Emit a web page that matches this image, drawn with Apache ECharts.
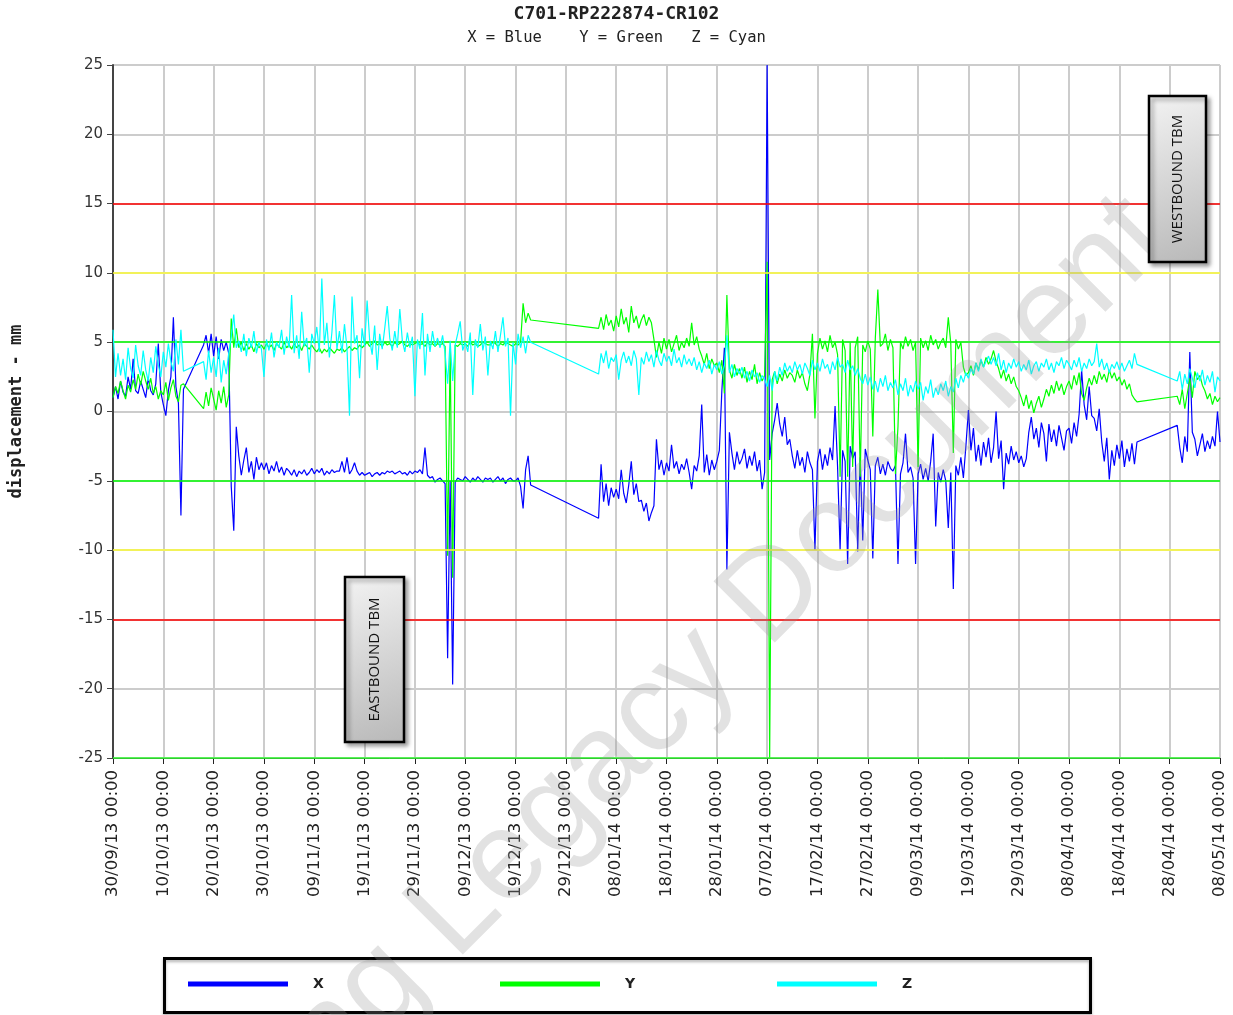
<!DOCTYPE html>
<html><head><meta charset="utf-8">
<script src="https://cdn.jsdelivr.net/npm/echarts@6/dist/echarts.min.js"></script>
<style>html,body{margin:0;padding:0;background:#fff}#chart{width:1233px;height:1015px}</style>
</head><body><div id="chart"></div>
<script>
const chartTitle = 'C701-RP222874-CR102';
const chartSubtitle = 'X = Blue    Y = Green   Z = Cyan';
const yAxisName = 'displacement - mm';
const seriesNames = ['X', 'Y', 'Z'];
const annotationTexts = ['EASTBOUND TBM', 'WESTBOUND TBM'];
const watermarkText = 'ng Legacy Document';
// one sample every half day, starting 30/09/13 00:00 (day 0)
const sampleStepDays = 0.5;
const xTickLabels = ['30/09/13 00:00','10/10/13 00:00','20/10/13 00:00','30/10/13 00:00','09/11/13 00:00','19/11/13 00:00','29/11/13 00:00','09/12/13 00:00','19/12/13 00:00','29/12/13 00:00','08/01/14 00:00','18/01/14 00:00','28/01/14 00:00','07/02/14 00:00','17/02/14 00:00','27/02/14 00:00','09/03/14 00:00','19/03/14 00:00','29/03/14 00:00','08/04/14 00:00','18/04/14 00:00','28/04/14 00:00','08/05/14 00:00'];
const limitLevels = [15, -15, 10, -10, 5, -5, -25];

const xValues = [
1.0,1.8,0.9,2.2,1.4,1.1,2.5,1.6,3.8,1.5,
1.3,2.2,1.6,1.0,2.4,1.5,1.2,2.0,4.9,1.4,
0.5,-0.3,1.5,2.5,6.8,1.8,0.6,-7.5,1.6,null,
null,null,null,null,null,null,4.8,5.5,4.2,5.6,
4.0,5.4,3.8,5.2,4.4,5.0,4.2,-5.4,-8.6,-1.1,
-3.2,-4.6,-3.5,-2.6,-4.4,-3.6,-4.9,-3.3,-4.2,-3.7,
-4.2,-3.7,-4.5,-3.9,-4.3,-3.6,-4.4,-4.0,-4.6,-4.1,
-4.3,-4.6,-4.2,-4.7,-4.3,-4.5,-4.2,-4.6,-4.4,-4.1,
-4.5,-4.2,-4.4,-4.1,-4.6,-4.3,-4.5,-4.2,-4.4,-4.3,
-4.3,-3.6,-4.4,-3.3,-4.5,-4.2,-3.7,-4.3,-4.6,-4.4,
-4.6,-4.5,-4.4,-4.7,-4.5,-4.4,-4.6,-4.4,-4.5,-4.3,
-4.4,-4.3,-4.5,-4.4,-4.3,-4.5,-4.4,-4.6,-4.3,-4.5,
-4.3,-4.4,-4.2,-4.5,-2.6,-4.6,-4.8,-4.7,-5.1,-4.9,
-4.8,-5.0,-5.2,-17.8,-5.0,-19.7,-5.1,-4.8,-4.9,-5.0,
-4.7,-4.9,-5.1,-4.8,-5.0,-4.7,-4.9,-5.1,-4.8,-4.9,
-4.8,-5.1,-4.9,-4.7,-5.0,-4.8,-5.2,-4.9,-4.8,-5.0,
-5.0,-4.8,-5.4,-7.0,-4.2,-3.2,-5.3,null,null,null,
null,null,null,null,null,null,null,null,null,null,
null,null,null,null,null,null,null,null,null,null,
null,null,null,-7.7,-3.8,-6.5,-5.2,-6.8,-5.5,-6.2,
-5.6,-6.3,-4.2,-5.9,-6.6,-5.3,-3.6,-6.0,-5.2,-6.5,
-6.4,-7.2,-6.6,-7.9,-7.3,-6.8,-2.0,-4.2,-3.5,-4.6,
-3.7,-4.3,-2.4,-4.1,-3.6,-4.5,-3.8,-4.2,-3.4,-4.4,
-5.6,-3.9,-4.3,-3.2,0.5,-4.4,-3.1,-4.6,-3.5,-4.2,
-3.6,-2.8,1.5,4.6,-11.4,-1.5,-3.0,-4.2,-2.9,-3.8,
-3.4,-2.7,-4.1,-3.2,-3.9,-2.9,-4.3,-3.5,-5.6,-4.4,
25,-3.5,-1.6,-0.6,0.6,-0.9,-1.8,-0.4,-2.4,-2.0,
-3.2,-4.1,-2.8,-3.9,-3.3,-4.4,-2.9,-3.7,-4.2,-10.0,
-3.6,-2.7,-4.2,-3.1,-3.9,-2.6,-3.5,0.4,-4.0,-10.0,
-2.8,-3.6,-11.0,-2.5,-3.4,-2.9,-10.1,-3.3,-9.3,-2.7,
-3.5,-4.2,-10.6,-3.9,-3.3,-4.5,-3.8,-4.6,-3.6,-4.1,
-4.3,-3.9,-11.0,-4.5,-3.7,-1.6,-4.4,-4.0,-4.8,-11.0,
-4.5,-3.8,-4.9,-4.1,-5.0,-3.6,-1.6,-8.3,-4.4,-5.1,
-4.2,-5.0,-8.4,-4.4,-12.8,-3.9,-4.6,-3.3,-4.8,-2.5,
0.1,-2.8,-1.2,-3.6,-2.4,-3.9,-2.2,-3.3,-1.9,-3.7,
-2.6,0.0,-3.4,-2.1,-5.6,-3.0,-3.8,-2.5,-3.5,-2.9,
-3.7,-3.2,-4.0,-3.4,-1.5,-0.4,-2.0,-1.2,-2.6,-0.8,
-1.6,-3.6,-0.9,-2.2,-1.3,-2.5,-1.0,-1.9,-2.8,-1.4,
-1.2,-2.3,-0.8,-1.8,-0.2,3.0,0.5,-0.6,1.8,-0.3,
-0.5,-1.4,0.2,-2.2,-3.6,-1.9,-4.9,-2.8,-3.9,-2.4,
-3.4,-2.1,-4.0,-2.7,-3.6,-2.3,-3.8,-2.2,null,null,
null,null,null,null,null,null,null,null,null,null,
null,null,null,-1.0,-2.6,-3.7,-1.8,-2.9,4.3,-1.5,
-2.0,-3.2,-2.4,-1.6,-2.9,-2.1,-2.7,-1.8,-2.5,0.0,
-2.2
];

const yValues = [
1.0,1.8,1.3,2.2,1.5,0.9,1.9,1.4,2.3,1.6,
2.7,1.9,2.9,2.2,1.6,2.4,1.3,1.8,0.9,1.5,
1.2,2.1,0.8,1.7,2.3,1.1,0.7,1.9,2.0,null,
null,null,null,null,null,null,0.2,1.4,0.4,1.7,
0.9,0.1,1.5,0.6,1.8,0.3,1.2,6.7,4.6,6.0,
4.6,5.0,4.4,4.9,4.5,4.8,4.3,4.9,4.6,4.8,
4.5,4.9,4.6,4.8,4.4,4.9,4.7,4.5,5.0,4.6,
4.8,4.5,4.9,4.6,4.8,4.4,4.9,4.7,4.5,4.8,
4.5,4.3,4.6,4.2,4.5,4.3,4.6,4.4,4.2,4.5,
4.4,4.6,4.3,4.5,4.7,4.4,4.6,4.5,4.8,4.6,
4.8,5.0,4.7,4.9,5.1,4.8,4.9,4.7,5.0,4.8,
4.9,4.7,5.0,4.8,4.9,5.1,4.8,4.7,4.9,4.8,
4.9,5.0,4.8,4.9,4.7,5.0,4.8,4.9,4.7,4.9,
4.8,4.9,4.7,-10.4,4.5,-12.0,4.8,4.7,4.9,4.8,
4.9,4.7,5.0,4.8,4.9,4.7,4.8,5.0,4.9,4.8,
4.8,5.0,4.9,4.7,4.9,4.8,5.0,4.9,4.8,4.7,
4.9,4.8,5.0,7.8,6.4,7.1,6.6,null,null,null,
null,null,null,null,null,null,null,null,null,null,
null,null,null,null,null,null,null,null,null,null,
null,null,null,6.0,6.8,5.9,7.0,6.2,6.6,5.8,
6.9,6.1,7.4,6.3,6.8,5.7,7.6,6.4,6.9,6.0,
6.6,7.0,6.2,6.8,6.4,5.2,3.9,5.0,4.2,5.3,
4.5,5.2,4.3,4.9,5.5,4.4,5.0,4.6,5.3,4.7,
6.4,4.8,5.4,4.5,4.0,3.4,4.2,3.1,3.8,3.3,
3.5,2.8,3.7,1.3,8.4,3.0,2.4,3.4,2.6,3.1,
2.4,3.2,2.1,2.9,2.3,3.4,2.0,2.8,2.2,2.6,
10.8,-25,2.3,2.9,2.0,2.7,2.2,3.0,2.4,2.8,
2.6,2.1,3.0,2.4,2.8,2.0,1.5,2.7,5.6,-0.5,
4.2,5.3,4.5,5.1,4.3,5.5,4.6,5.0,4.1,-4.7,
5.2,4.4,-4.7,5.0,-4.0,4.6,5.4,-4.7,4.8,4.3,
5.1,4.5,-1.8,5.3,8.8,4.7,4.9,5.6,4.4,5.2,
4.6,-4.5,-1.1,5.0,4.5,5.4,4.7,5.2,4.4,5.0,
-4.0,5.3,4.6,5.1,4.4,5.5,4.8,5.2,4.5,5.0,
5.3,4.6,6.8,4.9,-3.0,5.2,4.5,5.0,3.2,2.6,
2.8,3.3,2.6,3.5,3.0,3.7,3.2,3.9,3.4,3.8,
4.4,3.6,3.1,2.4,3.0,2.2,2.7,2.0,2.5,1.8,
1.5,1.0,0.4,1.2,0.2,0.8,-0.1,0.6,1.1,0.3,
0.9,1.6,1.1,1.9,1.3,2.2,1.5,2.0,1.2,1.8,
2.2,1.6,2.6,1.9,2.8,1.3,0.8,1.7,2.4,1.9,
2.6,2.0,2.9,2.3,2.7,2.1,3.0,2.4,2.8,2.2,
2.5,1.9,2.3,1.6,2.0,1.2,0.9,0.7,null,null,
null,null,null,null,null,null,null,null,null,null,
null,null,null,1.1,0.5,1.6,0.2,1.3,2.4,1.0,
2.9,2.3,2.6,1.9,1.5,0.9,1.3,0.5,1.1,0.7,
1.0
];

const zValues = [
5.9,2.5,4.2,2.6,3.8,2.3,4.6,3.1,2.4,4.8,
3.3,2.6,4.4,3.0,2.2,3.9,2.8,4.7,3.4,2.5,
4.3,3.2,4.9,3.6,2.9,5.2,3.4,5.9,2.9,null,
null,null,null,null,null,null,3.6,2.3,4.4,2.8,
3.9,2.5,4.6,2.1,3.7,2.7,4.2,5.4,7.0,4.6,
5.1,4.3,5.6,4.0,5.3,4.6,5.8,4.2,5.0,4.5,
2.5,5.2,4.4,5.7,3.9,5.0,4.6,5.9,4.1,5.4,
4.6,8.4,4.2,5.5,3.8,7.2,4.7,5.3,2.8,5.6,
4.9,6.1,4.3,9.6,4.8,6.4,3.9,5.7,8.4,4.5,
5.8,4.2,6.3,4.6,-0.3,8.3,4.9,5.5,2.4,6.0,
4.7,8.0,5.2,4.1,6.2,3.0,5.6,4.5,6.0,7.6,
5.3,4.4,5.8,4.6,7.4,5.1,4.3,5.7,4.6,5.4,
1.1,5.2,4.5,7.1,2.6,5.6,4.3,5.8,4.7,5.3,
4.6,5.5,4.2,2.0,5.1,2.2,4.8,5.6,6.5,4.4,
5.0,4.3,5.7,1.2,5.2,4.6,6.3,4.4,5.4,2.6,
5.1,4.5,5.8,4.3,5.5,6.8,4.7,5.3,-0.3,5.0,
3.4,5.6,4.6,5.4,4.2,5.5,5.0,null,null,null,
null,null,null,null,null,null,null,null,null,null,
null,null,null,null,null,null,null,null,null,null,
null,null,null,2.7,4.2,3.5,4.4,3.1,3.9,3.6,
4.1,2.3,3.7,4.3,3.5,4.0,3.3,4.4,3.8,1.2,
3.9,3.4,4.3,3.6,4.1,3.2,4.4,3.7,3.3,4.2,
3.6,4.0,3.3,4.5,3.5,3.9,3.2,4.1,3.4,3.8,
3.3,3.9,3.0,3.6,2.8,3.5,3.1,3.7,2.7,3.4,
3.0,3.6,2.7,3.3,5.5,2.8,3.4,2.5,3.1,2.7,
3.2,2.4,2.9,2.2,3.0,2.5,2.8,2.1,2.6,2.3,
1.8,2.6,1.5,2.9,2.2,3.2,2.6,3.5,2.9,3.3,
2.8,3.6,3.0,3.4,2.7,3.5,3.1,2.6,3.7,3.0,
3.5,2.9,3.8,3.1,3.4,2.7,3.6,3.0,3.9,3.2,
3.4,2.8,3.7,3.0,3.3,2.6,3.1,2.4,2.0,2.7,
1.9,2.5,1.6,2.2,1.4,2.4,1.8,2.6,1.5,2.1,
1.7,2.3,1.2,2.0,1.5,2.4,1.1,1.9,1.4,2.2,
1.6,2.1,0.8,1.8,1.3,2.3,1.0,1.7,1.2,2.0,
1.5,2.2,1.1,1.8,1.4,2.4,1.7,2.6,2.1,2.8,
2.4,3.1,2.7,3.5,2.9,3.8,3.2,3.6,4.0,3.4,
3.9,3.3,4.2,3.0,3.7,2.8,3.5,3.1,3.8,3.2,
3.6,2.9,3.4,3.0,3.7,2.7,3.3,3.6,2.9,3.5,
3.2,3.8,3.0,3.5,2.8,3.6,3.3,3.9,3.1,3.7,
3.4,3.0,3.7,3.2,3.9,2.9,3.5,3.1,3.8,3.3,
3.6,4.9,3.2,3.8,3.0,3.5,2.8,3.4,3.1,3.6,
3.0,3.5,2.9,3.3,3.7,3.1,4.2,3.4,null,null,
null,null,null,null,null,null,null,null,null,null,
null,null,null,2.2,2.9,1.6,2.7,2.0,3.1,2.4,
1.7,2.8,2.2,3.0,1.9,2.6,2.1,2.9,1.4,2.5,
2.2
];

// ---------------- chart -----------------
const colors = ['#0000FF', '#00FF00', '#00FFFF'];
const limitColors = { 15: '#FF0000', '-15': '#FF0000', 10: '#FFFF33', '-10': '#FFFF33', 5: '#00FF00', '-5': '#00FF00', '-25': '#33FF33' };
const tickStep = 10;
const toPairs = arr => arr.map((v, i) => [i * sampleStepDays, v]);
const allValues = [xValues, yValues, zValues];

const chart = echarts.init(document.getElementById('chart'), null, { renderer: 'canvas' });

const series = seriesNames.map((name, k) => ({
  name, type: 'line', data: toPairs(allValues[k]),
  symbol: 'none', showSymbol: false, connectNulls: true, clip: true,
  lineStyle: { width: 1.2, color: colors[k] }, itemStyle: { color: colors[k] },
  animation: false, z: 3 + k,
  markLine: k === 0 ? {
    silent: true, symbol: ['none', 'none'], label: { show: false }, animation: false,
    data: limitLevels.map(v => ({ yAxis: v, lineStyle: { color: limitColors[v], width: 1.6, type: 'solid' } }))
  } : undefined
}));

function tbmBox(x, y, w, h, text) {
  return {
    type: 'group', x, y, z: 120,
    children: [
      { type: 'rect', z: 120, shape: { x: 0, y: 0, width: w, height: h },
        style: { fill: { type: 'linear', x: 0, y: 0, x2: 1, y2: 1,
                   colorStops: [{ offset: 0, color: '#f3f3f3' }, { offset: 1, color: '#b8b8b8' }] },
                 stroke: '#000', lineWidth: 2.5, shadowBlur: 4, shadowOffsetX: 3, shadowOffsetY: 3,
                 shadowColor: 'rgba(0,0,0,0.35)' } },
      { type: 'text', z: 121, x: w / 2, y: h / 2, rotation: Math.PI / 2,
        style: { text, fontFamily: 'Open Sans', fontSize: 15, fill: '#111',
                 align: 'center', verticalAlign: 'middle', textAlign: 'center', textVerticalAlign: 'middle' } }
    ]
  };
}

const legendLefts = [188, 500, 777];

chart.setOption({
  animation: false,
  backgroundColor: '#ffffff',
  title: {
    text: chartTitle, subtext: chartSubtitle, left: 'center', top: 0,
    padding: [5, 12, 0, 0], itemGap: 7,
    textStyle: { fontFamily: 'DejaVu Sans Mono', fontWeight: 'bold', fontSize: 18, color: '#222' },
    subtextStyle: { fontFamily: 'DejaVu Sans Mono', fontSize: 15.5, color: '#222' }
  },
  grid: { left: 113, right: 13, top: 65, bottom: 257, containLabel: false },
  legend: seriesNames.map((n, k) => ({
    data: [n], left: legendLefts[k], top: 977, padding: 0, icon: 'rect',
    itemWidth: 100, itemHeight: 5, selectedMode: false,
    textStyle: { fontFamily: 'DejaVu Sans', fontWeight: 'bold', fontSize: 14, color: '#222', padding: [0, 0, 0, 20] }
  })),
  xAxis: {
    type: 'value', min: 0, max: (xTickLabels.length - 1) * tickStep, interval: tickStep,
    axisLine: { show: true, onZero: false, lineStyle: { color: '#333', width: 1 } },
    axisTick: { show: true, length: 6, lineStyle: { color: '#222' } },
    axisLabel: { rotate: 90, margin: 12, fontFamily: 'DejaVu Sans', fontSize: 16.5, color: '#222',
                 formatter: v => xTickLabels[Math.round(v / tickStep)] || '' },
    splitLine: { show: true, lineStyle: { color: '#cccccc', width: 2 } }
  },
  yAxis: {
    type: 'value', min: -25, max: 25, interval: 5,
    name: yAxisName, nameLocation: 'middle', nameRotate: 90, nameGap: 88,
    nameTextStyle: { fontFamily: 'DejaVu Sans Mono', fontWeight: 'bold', fontSize: 17, color: '#222' },
    axisLine: { show: true, lineStyle: { color: '#444', width: 2 } },
    axisTick: { show: true, length: 6, lineStyle: { color: '#444' } },
    axisLabel: { margin: 10, fontFamily: 'DejaVu Sans', fontSize: 15, color: '#333' },
    splitLine: { show: true, lineStyle: { color: '#cccccc', width: 2 } }
  },
  series,
  graphic: [
    { type: 'rect', z: 1, shape: { x: 164.5, y: 958.5, width: 926, height: 54 },
      style: { fill: null, stroke: '#000', lineWidth: 3, shadowBlur: 3, shadowOffsetY: 2, shadowColor: 'rgba(0,0,0,0.3)' } },
    { type: 'text', z: 100, x: 728, y: 640, rotation: Math.PI / 4, silent: true,
      style: { text: watermarkText, fontFamily: 'Liberation Sans', fontSize: 126,
               fill: 'rgba(150,150,150,0.28)', align: 'center', verticalAlign: 'middle',
               textAlign: 'center', textVerticalAlign: 'middle' } },
    tbmBox(345, 577, 59, 165, annotationTexts[0]),
    tbmBox(1149, 96, 57, 166, annotationTexts[1])
  ]
});
</script>
</body></html>
